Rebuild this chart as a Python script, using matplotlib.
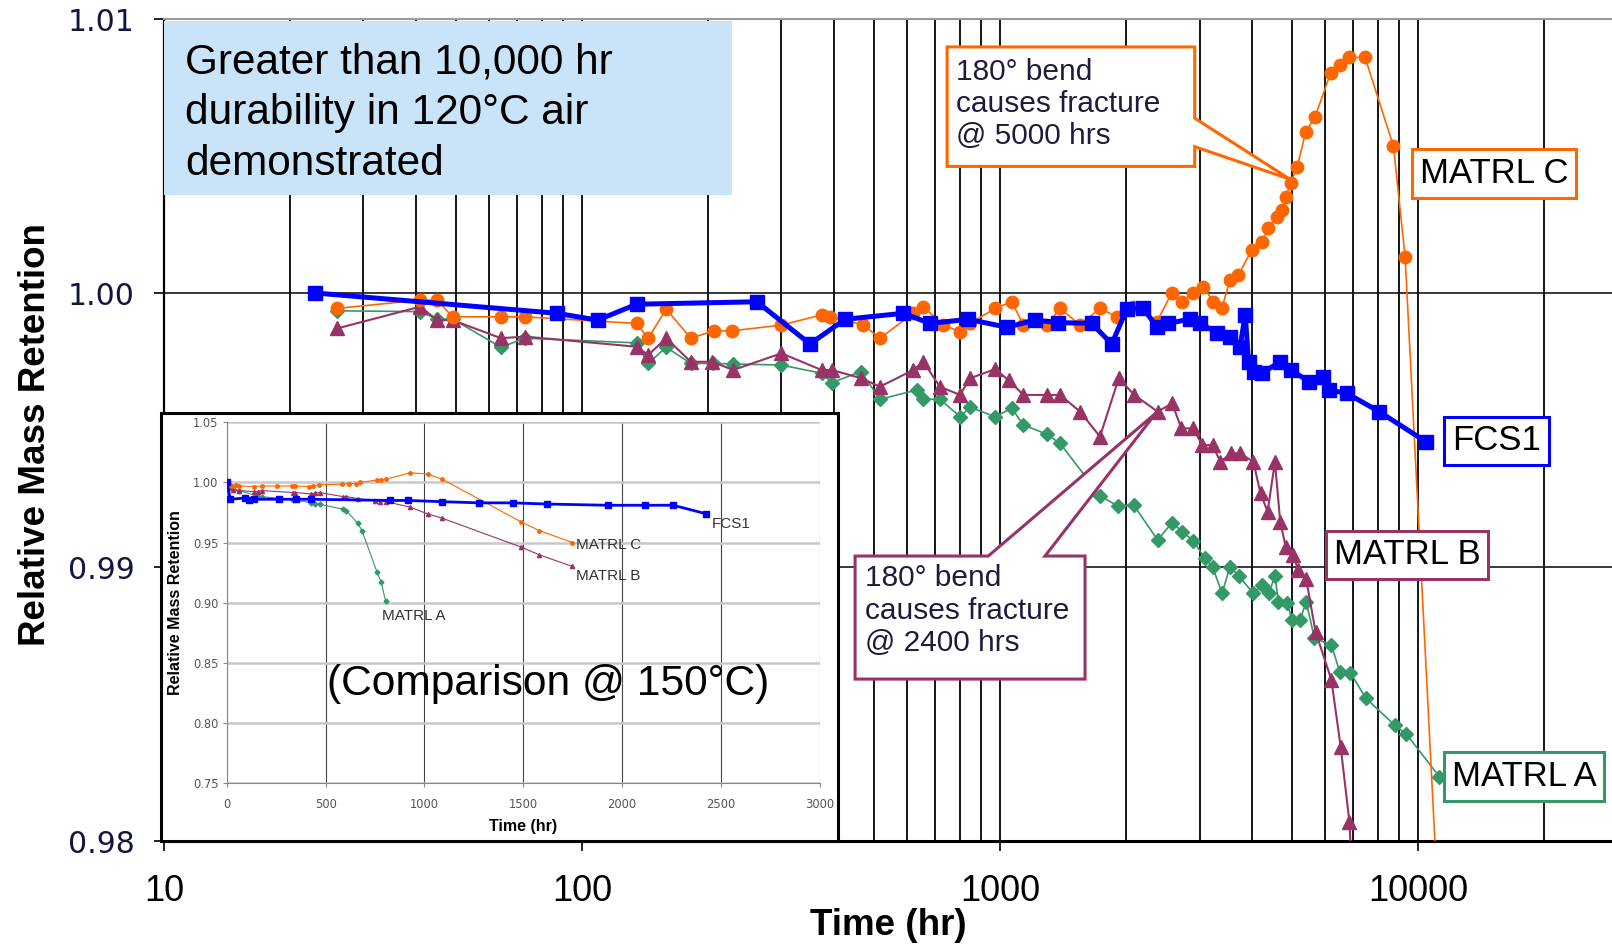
import matplotlib
matplotlib.use("Agg")
import matplotlib.pyplot as plt
from matplotlib.patches import Rectangle, Polygon
from matplotlib.ticker import FixedLocator, LogLocator, NullFormatter

# ---- main chart: 120 C air, relative mass retention vs time (hr) ----
fcs1_t = [23, 87, 109, 135, 262, 351, 426, 587, 680, 840, 1038, 1212,
          1379, 1657, 1850, 2010, 2198, 2371, 2527, 2848, 3009, 3299, 3548, 3750,
          3860, 3930, 4050, 4230, 4680, 4970, 5485, 5938, 6110, 6754, 8071, 10446]
fcs1_v = [1.0, 0.99926, 0.99901, 0.99959, 0.99968, 0.99814, 0.99904, 0.99926, 0.99889, 0.99904, 0.99875, 0.99901,
          0.99892, 0.99889, 0.99814, 0.99941, 0.99945, 0.99877, 0.99889, 0.99905, 0.99891, 0.99854, 0.99841, 0.99804,
          0.99921, 0.99749, 0.99713, 0.99708, 0.99749, 0.99719, 0.99676, 0.99695, 0.99646, 0.99634, 0.99567, 0.99457]

matc_t = [26, 41, 45, 49, 64, 73, 135, 144, 159, 182, 207, 229,
          300, 374, 392, 471, 516, 620, 655, 732, 802, 848, 973, 1067,
          1137, 1293, 1392, 1554, 1734, 1902, 2084, 2371, 2575, 2721, 2901, 3065,
          3237, 3392, 3548, 3717, 4000, 4227, 4385, 4592, 4720, 4834, 4961, 5142,
          5387, 5670, 6181, 6508, 6839, 7467, 8730, 9311, 11400]
matc_v = [0.99944, 0.99974, 0.99974, 0.99913, 0.99913, 0.99913, 0.99889, 0.99835, 0.99941, 0.99835, 0.99862, 0.99862,
          0.99883, 0.9992, 0.99913, 0.99883, 0.99835, 0.99926, 0.9995, 0.99883, 0.99859, 0.99889, 0.99944, 0.99968,
          0.99883, 0.99883, 0.99944, 0.99883, 0.99944, 0.99913, 0.9995, 0.99895, 1.0, 0.99968, 1.0, 1.00023,
          0.99968, 0.99944, 1.00047, 1.00066, 1.00157, 1.00187, 1.00236, 1.00278, 1.00303, 1.00351, 1.00403, 1.00461,
          1.00589, 1.00643, 1.00804, 1.00832, 1.0086, 1.0086, 1.00536, 1.00132, 0.975]

matb_t = [26, 41, 45, 49, 64, 73, 135, 144, 159, 182, 205, 230,
          300, 374, 396, 465, 516, 620, 655, 718, 802, 848, 973, 1048,
          1137, 1293, 1392, 1554, 1734, 1923, 2094, 2382, 2580, 2715, 2896, 3047,
          3223, 3365, 3569, 3750, 4035, 4198, 4366, 4545, 4680, 4822, 5017, 5169,
          5400, 5685, 6203, 6528, 6850, 7150]
matb_v = [0.99871, 0.9995, 0.99901, 0.99901, 0.99835, 0.99841, 0.99804, 0.99774, 0.99835, 0.99749, 0.99749, 0.99719,
          0.9978, 0.99719, 0.99719, 0.99689, 0.99658, 0.99719, 0.99749, 0.99658, 0.99628, 0.99689, 0.99722, 0.99682,
          0.99628, 0.99628, 0.99628, 0.99567, 0.99476, 0.99689, 0.99628, 0.99567, 0.99597, 0.99506, 0.99506, 0.99445,
          0.99445, 0.99384, 0.99415, 0.99415, 0.99384, 0.99269, 0.99202, 0.99384, 0.99165, 0.99074, 0.99044, 0.98989,
          0.98955, 0.98764, 0.98588, 0.98344, 0.98071, 0.975]

mata_t = [26, 41, 45, 49, 64, 73, 135, 144, 159, 182, 206, 230,
          300, 374, 396, 465, 516, 632, 655, 718, 802, 848, 973, 1067,
          1137, 1293, 1392, 1738, 1912, 2087, 2382, 2580, 2731, 2899, 3088, 3223,
          3397, 3548, 3727, 4035, 4238, 4394, 4545, 4635, 4870, 4988, 5221, 5400,
          5650, 6203, 6494, 6890, 7500, 8790, 9366, 11237]
mata_v = [0.99935, 0.99932, 0.99905, 0.99905, 0.99802, 0.99835, 0.99818, 0.99743, 0.99802, 0.99743, 0.99743, 0.99741,
          0.99737, 0.99707, 0.99673, 0.99713, 0.99612, 0.99646, 0.99612, 0.99612, 0.99549, 0.99583, 0.99549, 0.99579,
          0.99518, 0.99485, 0.99451, 0.99259, 0.99223, 0.99226, 0.99099, 0.99162, 0.99129, 0.99096, 0.99032, 0.99001,
          0.98904, 0.99001, 0.98967, 0.98904, 0.98934, 0.98904, 0.98967, 0.98873, 0.98868, 0.98807, 0.98807, 0.98873,
          0.9874, 0.98715, 0.98618, 0.98614, 0.98521, 0.98423, 0.98391, 0.98235]

x_ticks = [10, 100, 1000, 10000]
x_tick_labels = ["10", "100", "1000", "10000"]
y_ticks = [0.98, 0.99, 1.00, 1.01]
y_tick_labels = ["0.98", "0.99", "1.00", "1.01"]

# ---- inset: comparison at 150 C ----
in_fcs1_t = [0, 18, 90, 113, 136, 262, 350, 425, 825, 915, 1087, 1276, 1446, 1622, 1927, 2117, 2259, 2424]
in_fcs1_v = [1.0, 0.986, 0.987, 0.985, 0.986, 0.986, 0.986, 0.986, 0.985, 0.985, 0.984, 0.983, 0.983, 0.982,
             0.981, 0.981, 0.981, 0.974]
in_matc_t = [14, 29, 45, 63, 136, 176, 255, 330, 346, 418, 436, 465, 583, 617, 655, 673, 759, 782, 804,
             928, 1017, 1091, 1491, 1581, 1749]
in_matc_v = [0.998, 0.997, 0.998, 0.997, 0.9966, 0.997, 0.997, 0.997, 0.997, 0.9966, 0.997, 0.998, 0.9985,
             0.999, 0.999, 1.0, 1.002, 1.002, 1.0026, 1.008, 1.007, 1.0026, 0.967, 0.960, 0.950]
in_matb_t = [7, 29, 63, 136, 158, 176, 334, 346, 425, 447, 470, 587, 605, 662, 752, 775, 804, 928, 1017,
             1091, 1491, 1581, 1749]
in_matb_v = [0.9952, 0.9938, 0.9932, 0.9924, 0.9924, 0.9932, 0.9916, 0.9916, 0.9904, 0.9910, 0.9916, 0.9882,
             0.9882, 0.9866, 0.9846, 0.9841, 0.9841, 0.9794, 0.9738, 0.9702, 0.9461, 0.9398, 0.9301]
in_mata_t = [7, 29, 63, 154, 176, 334, 425, 447, 470, 587, 605, 662, 684, 759, 782, 804]
in_mata_v = [0.9952, 0.9943, 0.9932, 0.9888, 0.9882, 0.9855, 0.9832, 0.9819, 0.9819, 0.9777, 0.9766, 0.9661,
             0.960, 0.9259, 0.9168, 0.901]
in_x_ticks = [0, 500, 1000, 1500, 2000, 2500, 3000]
in_y_ticks = [0.75, 0.80, 0.85, 0.90, 0.95, 1.00, 1.05]

BLUE = "#0000FF"
ORANGE = "#FF6600"
PURPLE = "#993366"
GREEN = "#339966"
ARIAL = ["Liberation Sans", "DejaVu Sans"]

plt.rcParams["font.family"] = ARIAL

W, H = 1612, 948
fig = plt.figure(figsize=(W / 100, H / 100), dpi=100)
fig.patch.set_facecolor("white")

# main axes spans x 164..1612 px, y 19..841 px
ax = fig.add_axes([164 / W, (H - 841) / H, (W - 164) / W, 822 / H])
ax.set_xscale("log")
ax.set_xlim(10, 29100)
ax.set_ylim(0.98, 1.01)

ax.plot(mata_t, mata_v, color=GREEN, lw=1.2, marker="D", ms=7, zorder=3)
ax.plot(matb_t, matb_v, color=PURPLE, lw=1.5, marker="^", ms=10, zorder=3)
ax.plot(matc_t, matc_v, color=ORANGE, lw=1.2, marker="o", ms=9, zorder=3)
ax.plot(fcs1_t, fcs1_v, color=BLUE, lw=3.6, marker="s", ms=10.5, zorder=4)

ax.xaxis.set_major_locator(FixedLocator(x_ticks))
ax.set_xticklabels(x_tick_labels)
ax.xaxis.set_minor_locator(LogLocator(base=10, subs=(2, 3, 4, 5, 6, 7, 8, 9)))
ax.xaxis.set_minor_formatter(NullFormatter())
ax.set_yticks(y_ticks)
ax.set_yticklabels(y_tick_labels)
ax.set_axisbelow(True)
ax.grid(True, which="both", axis="x", color="#151515", lw=1.4)
ax.grid(True, which="major", axis="y", color="#151515", lw=1.2)

ax.tick_params(axis="x", which="major", length=7, width=1.2, pad=17, labelsize=26, labelcolor="black")
ax.tick_params(axis="x", which="minor", length=0)
ax.tick_params(axis="y", length=7, width=1.2, pad=14, labelsize=21.5, labelcolor="#141440")
for lab in ax.get_yticklabels():
    lab.set_family("DejaVu Sans")

ax.spines["right"].set_visible(False)
ax.spines["top"].set_color("#999999")
ax.spines["top"].set_linewidth(1.5)
ax.spines["left"].set_linewidth(1.6)
ax.spines["bottom"].set_linewidth(2.2)

ax.set_xlabel("Time (hr)", fontsize=26.5, fontweight="bold")
ax.xaxis.set_label_coords(0.5, -0.081)
ax.set_ylabel("Relative Mass Retention", fontsize=26.5, fontweight="bold")
ax.yaxis.set_label_coords(-0.077, 0.494)

# headline box
ax.add_patch(Rectangle((0, 0.786), 0.3923, 0.212, transform=ax.transAxes,
                       facecolor="#C9E3F9", edgecolor="none", zorder=5))
ax.text(0.0145, 0.971, "Greater than 10,000 hr\ndurability in 120\u00b0C air\ndemonstrated",
        transform=ax.transAxes, ha="left", va="top", fontsize=30.5, color="black",
        linespacing=1.34, zorder=6)

# callouts
callout_c = [(747, 1.00898), (2922, 1.00898), (2922, 1.00638), (4940, 1.00415),
             (2922, 1.00534), (2922, 1.00462), (747, 1.00462)]
ax.add_patch(Polygon(callout_c, closed=True, facecolor="white", edgecolor=ORANGE, lw=2.2, zorder=6))
ax.text(785, 1.0069, "180\u00b0 bend\ncauses fracture\n@ 5000 hrs", ha="left", va="center",
        fontsize=21.5, color="#1c1c3c", linespacing=1.2, zorder=7)

callout_b = [(450, 0.9904), (937, 0.9904), (2360, 0.99562), (1281, 0.9904),
             (1597, 0.9904), (1597, 0.98591), (450, 0.98591)]
ax.add_patch(Polygon(callout_b, closed=True, facecolor="white", edgecolor=PURPLE, lw=2.2, zorder=6))
ax.text(474, 0.9884, "180\u00b0 bend\ncauses fracture\n@ 2400 hrs", ha="left", va="center",
        fontsize=21.5, color="#1c1c3c", linespacing=1.2, zorder=7)

# series labels
for (tx, ty, name, col) in [(10110, 1.00436, "MATRL C", ORANGE), (12057, 0.9946, "FCS1", BLUE),
                            (6295, 0.99044, "MATRL B", PURPLE), (12057, 0.98235, "MATRL A", GREEN)]:
    ax.text(tx, ty, name, ha="left", va="center", fontsize=25, color="black", zorder=8,
            bbox=dict(boxstyle="square,pad=0.22", facecolor="white", edgecolor=col, lw=2.2))

# ---- inset ----
fig.add_artist(Rectangle((161 / W, (H - 841) / H), 677 / W, 428 / H, transform=fig.transFigure,
                         facecolor="white", edgecolor="black", lw=2.2, zorder=2))
ins = fig.add_axes([226.8 / W, (H - 783) / H, 592.8 / W, 360.7 / H], zorder=3)
ins.set_xlim(0, 3000)
ins.set_ylim(0.75, 1.05)
ins.plot(in_mata_t, in_mata_v, color=GREEN, lw=0.8, marker="D", ms=2.5, zorder=3)
ins.plot(in_matb_t, in_matb_v, color=PURPLE, lw=0.8, marker="^", ms=3, zorder=3)
ins.plot(in_matc_t, in_matc_v, color=ORANGE, lw=0.8, marker="o", ms=2.5, zorder=3)
ins.plot(in_fcs1_t, in_fcs1_v, color=BLUE, lw=2, marker="s", ms=4.5, zorder=4)
ins.set_xticks(in_x_ticks)
ins.set_xticklabels([str(v) for v in in_x_ticks])
ins.set_yticks(in_y_ticks)
ins.set_yticklabels(["%.2f" % v for v in in_y_ticks])
ins.set_axisbelow(True)
ins.grid(True, axis="y", color="#c8c8c8", lw=1.8)
ins.grid(True, axis="x", color="#444444", lw=0.8)
ins.tick_params(length=3, color="#888888", labelsize=8.3, labelcolor="#555555")
ins.tick_params(axis="x", pad=8)
ins.tick_params(axis="y", pad=3)
for lab in ins.get_xticklabels() + ins.get_yticklabels():
    lab.set_family("DejaVu Sans")
for side in ["top", "right"]:
    ins.spines[side].set_visible(False)
for side in ["left", "bottom"]:
    ins.spines[side].set_color("#888888")
ins.set_xlabel("Time (hr)", fontsize=11.5, fontweight="bold")
ins.xaxis.set_label_coords(0.5, -0.1)
ins.set_ylabel("Relative Mass Retention", fontsize=11.5, fontweight="bold")
ins.yaxis.set_label_coords(-0.074, 0.5)

for (tx, ty, name) in [(2453, 0.9655, "FCS1"), (1769, 0.948, "MATRL C"),
                       (1769, 0.9223, "MATRL B"), (786, 0.8885, "MATRL A")]:
    ins.text(tx, ty, name, ha="left", va="center", fontsize=11, color="#333333")

ins.text(0.169, 0.2745, "(Comparison @ 150\u00b0C)", transform=ins.transAxes, ha="left", va="center",
         fontsize=30.6, color="black", zorder=6)

fig.savefig("out.png", dpi=100)
plt.close(fig)
